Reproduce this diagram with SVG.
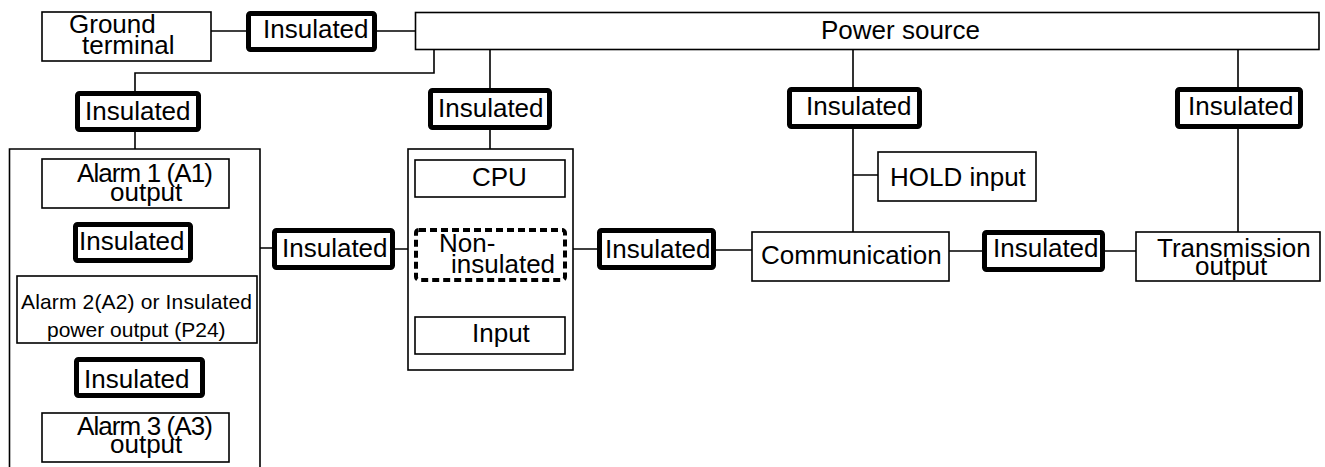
<svg xmlns="http://www.w3.org/2000/svg" width="1325" height="467" viewBox="0 0 1325 467">
<style>
.box{fill:#fff;stroke:#000;stroke-width:1.6}
.ins{fill:#fff;stroke:#000;stroke-width:5}
.dash{fill:#fff;stroke:#000;stroke-width:4;stroke-dasharray:7 4}
.ln{fill:none;stroke:#000;stroke-width:1.6}
text{font-family:"Liberation Sans",Arial,sans-serif;font-size:26px;fill:#000}
.sm{font-size:21px}
</style>
<rect width="1325" height="467" fill="#fff"/>
<g id="connectors">
<path class="ln" d="M211,31H246M377,31H415"/>
<path class="ln" d="M434,50V73H135V91M135,132V149"/>
<path class="ln" d="M135,208V222M135,263V276M135,343V357M135,398V413"/>
<path class="ln" d="M260,248H272M395,249H414M567,249H597M716,250H752"/>
<path class="ln" d="M490,50V88M490,130V160M490,197V228M490,282V317"/>
<path class="ln" d="M853,50V87M853,129V232M853,175H878"/>
<path class="ln" d="M949,251H982M1105,251H1136"/>
<path class="ln" d="M1238,50V87M1238,129V232M1235,266V281"/>
</g>
<g id="ground"><rect class="box" x="42" y="12" width="169" height="49"/><text x="69" y="33">Ground</text><text x="82" y="54">terminal</text></g>
<g id="ins-ground"><rect class="ins" x="248.5" y="13.5" width="126" height="36" rx="2"/><text x="263" y="38">Insulated</text></g>
<g id="power"><rect class="box" x="415.5" y="12.5" width="903.5" height="37"/><text x="821" y="39">Power source</text></g>
<g id="ins-alarm"><rect class="ins" x="77.5" y="93.5" width="121" height="36" rx="2"/><text x="85" y="120">Insulated</text></g>
<g id="alarm-group"><path class="box" d="M9.5,480V149H260V480" fill="none"/></g>
<g id="alarm1"><rect class="box" x="42" y="159" width="187" height="49"/><text x="77" y="182" textLength="136" lengthAdjust="spacing">Alarm 1 (A1)</text><text x="110" y="201">output</text></g>
<g id="ins-a12"><rect class="ins" x="75.5" y="224.5" width="115" height="36" rx="2"/><text x="79" y="250">Insulated</text></g>
<g id="alarm2"><rect class="box" x="17" y="276" width="240" height="67"/><text class="sm" x="21" y="309" textLength="231" lengthAdjust="spacing">Alarm 2(A2) or Insulated</text><text class="sm" x="47" y="337">power output (P24)</text></g>
<g id="ins-a23"><rect class="ins" x="76.5" y="359.5" width="126" height="36" rx="2"/><text x="84" y="388">Insulated</text></g>
<g id="alarm3"><rect class="box" x="42" y="413" width="187" height="49"/><text x="77" y="435" textLength="136" lengthAdjust="spacing">Alarm 3 (A3)</text><text x="110" y="453">output</text></g>
<g id="ins-mid-left"><rect class="ins" x="274.5" y="230.5" width="118" height="37" rx="2"/><text x="282" y="257">Insulated</text></g>
<g id="ins-cpu"><rect class="ins" x="430.5" y="90.5" width="119" height="37" rx="2"/><text x="438" y="117">Insulated</text></g>
<g id="cpu-group"><rect class="box" x="408" y="149" width="165" height="221"/></g>
<g id="cpu"><rect class="box" x="415" y="160" width="150" height="37"/><text x="472" y="186">CPU</text></g>
<g id="noninsulated"><rect class="dash" x="416" y="230" width="149" height="50" rx="3"/><text x="439" y="252">Non-</text><text x="451" y="273">insulated</text></g>
<g id="input"><rect class="box" x="415" y="317" width="150" height="37"/><text x="472" y="342">Input</text></g>
<g id="ins-mid-right"><rect class="ins" x="599.5" y="230.5" width="114" height="37" rx="2"/><text x="605" y="258">Insulated</text></g>
<g id="ins-comm"><rect class="ins" x="789.5" y="89.5" width="130" height="37" rx="2"/><text x="806" y="115">Insulated</text></g>
<g id="hold"><rect class="box" x="878" y="152" width="158" height="49"/><text x="890" y="186">HOLD input</text></g>
<g id="communication"><rect class="box" x="752" y="232" width="197" height="49"/><text x="761" y="264">Communication</text></g>
<g id="ins-trans"><rect class="ins" x="984.5" y="232.5" width="118" height="37" rx="2"/><text x="993" y="257">Insulated</text></g>
<g id="ins-top-right"><rect class="ins" x="1177.5" y="89.5" width="123" height="37" rx="2"/><text x="1188" y="115">Insulated</text></g>
<g id="transmission"><rect class="box" x="1136" y="232" width="184" height="49"/><text x="1157" y="257">Transmission</text><text x="1195" y="275">output</text></g>
</svg>
